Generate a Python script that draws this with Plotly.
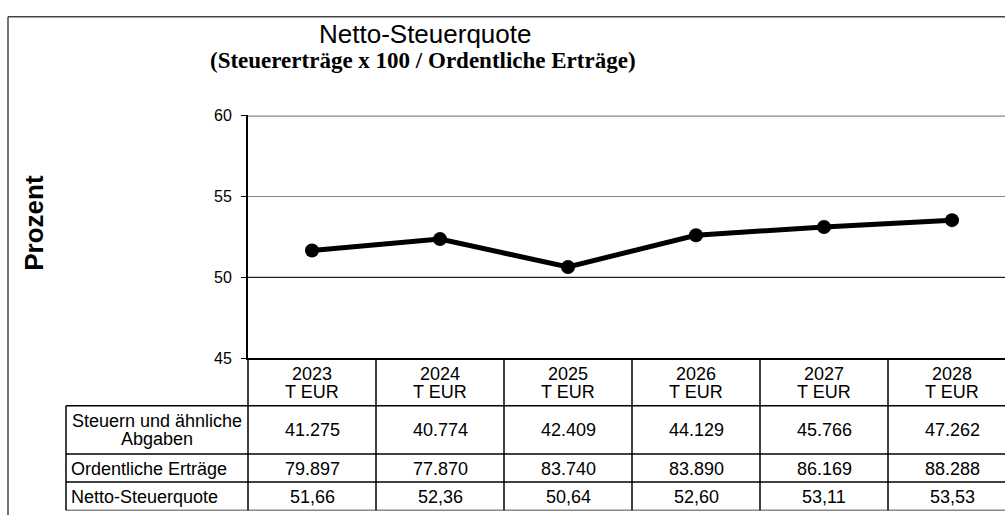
import plotly.graph_objects as go

years = ["2023", "2024", "2025", "2026", "2027", "2028"]
unit = "T EUR"
quote = [51.66, 52.36, 50.64, 52.60, 53.11, 53.53]
row_labels = ["Steuern und ähnliche<br>Abgaben", "Ordentliche Erträge", "Netto-Steuerquote"]
steuern = ["41.275", "40.774", "42.409", "44.129", "45.766", "47.262"]
ertraege = ["79.897", "77.870", "83.740", "83.890", "86.169", "88.288"]
quote_txt = ["51,66", "52,36", "50,64", "52,60", "53,11", "53,53"]

W, H = 1005, 524
FONT = "Liberation Sans, Arial, sans-serif"


def px(x):
    return x / W


def py(y):
    return 1 - y / H


x_idx = list(range(len(years)))
col_w = 128
ax_left = 248

fig = go.Figure()
fig.add_trace(
    go.Scatter(
        x=x_idx,
        y=quote,
        mode="lines+markers",
        line=dict(color="black", width=5),
        marker=dict(color="black", size=14),
        showlegend=False,
        cliponaxis=False,
        hoverinfo="skip",
    )
)

shapes = []
line_k = dict(color="black", width=1.5)

# outer frame (left + top)
shapes.append(dict(type="line", xref="paper", yref="paper", x0=px(8), x1=1, y0=py(9), y1=py(9),
                   line=dict(color="#444", width=1.5)))
shapes.append(dict(type="line", xref="paper", yref="paper", x0=px(8), x1=px(8), y0=py(9), y1=0,
                   line=dict(color="#444", width=1.5)))

# plot top border, black gridline at 50
shapes.append(dict(type="line", xref="paper", yref="y", x0=px(ax_left), x1=1, y0=60, y1=60,
                   line=dict(color="#888", width=2.5)))
shapes.append(dict(type="line", xref="paper", yref="y", x0=px(ax_left), x1=1, y0=50, y1=50,
                   line=dict(color="black", width=1)))

# data table grid
for yy in [411, 461, 490]:
    shapes.append(dict(type="line", xref="paper", yref="paper", x0=px(66), x1=1, y0=py(yy), y1=py(yy),
                       line=line_k))
shapes.append(dict(type="line", xref="paper", yref="paper", x0=px(66), x1=1, y0=py(519), y1=py(519),
                   line=dict(color="#888", width=1.5)))
shapes.append(dict(type="line", xref="paper", yref="paper", x0=px(66), x1=px(66), y0=py(411), y1=py(519),
                   line=line_k))
for i in x_idx[1:]:
    shapes.append(dict(type="line", xref="x", yref="paper", x0=i - 0.5, x1=i - 0.5, y0=py(362), y1=py(519),
                       line=line_k))
shapes.append(dict(type="line", xref="paper", yref="paper", x0=px(ax_left), x1=px(ax_left), y0=py(362),
                   y1=py(519), line=line_k))

annotations = []
tf = dict(family=FONT, size=18, color="black")


def note(x, y, text, xref="paper", xanchor="center", font=tf, **kw):
    annotations.append(dict(x=x, y=py(y), xref=xref, yref="paper", text=text, showarrow=False,
                            xanchor=xanchor, yanchor="middle", font=font, **kw))


for i, yr in enumerate(years):
    note(i, 378, yr, xref="x")
    note(i, 397, unit, xref="x")
    note(i, 436, steuern[i], xref="x")
    note(i, 476, ertraege[i], xref="x")
    note(i, 505, quote_txt[i], xref="x")

lab1 = row_labels[0].split("<br>")
note(px(157), 427, lab1[0])
note(px(157), 445, lab1[1])
note(px(69), 476, row_labels[1], xanchor="left")
note(px(69), 505, row_labels[2], xanchor="left")

# titles
note(px(425), 27, "Netto-Steuerquote", font=dict(family=FONT, size=26, color="black"))
note(px(423), 54, "<b>(Steuererträge x 100 / Ordentliche Erträge)</b>",
     font=dict(family="Liberation Serif, serif", size=23, color="black"))
note(px(34), 222, "<b>Prozent</b>", font=dict(family=FONT, size=26, color="black"), textangle=-90)

fig.update_layout(
    width=W,
    height=H,
    margin=dict(l=0, r=0, t=0, b=0),
    paper_bgcolor="white",
    plot_bgcolor="white",
    font=dict(family=FONT, size=16, color="black"),
    hovermode=False,
    xaxis=dict(
        domain=[px(ax_left), 1],
        range=[-0.5, -0.5 + (W - ax_left) / col_w],
        showticklabels=False,
        ticks="",
        showgrid=False,
        zeroline=False,
        showline=True,
        linecolor="black",
        linewidth=2,
    ),
    yaxis=dict(
        domain=[py(362), py(111)],
        range=[45, 60],
        tickvals=[45, 50, 55, 60],
        ticks="outside",
        ticklen=5,
        tickcolor="black",
        ticklabelstandoff=6,
        showgrid=True,
        gridcolor="#888",
        gridwidth=1,
        zeroline=False,
        showline=True,
        linecolor="black",
        linewidth=2,
        tickfont=dict(family=FONT, size=16, color="black"),
    ),
    shapes=shapes,
    annotations=annotations,
)

# drop the default body margin so the figure sits at the page origin
pin_script = (
    "document.body.style.margin='0';"
    "document.documentElement.style.overflow='hidden';"
)

fig.write_html(
    "out.html",
    config={"displayModeBar": False, "staticPlot": True},
    post_script=pin_script,
)
